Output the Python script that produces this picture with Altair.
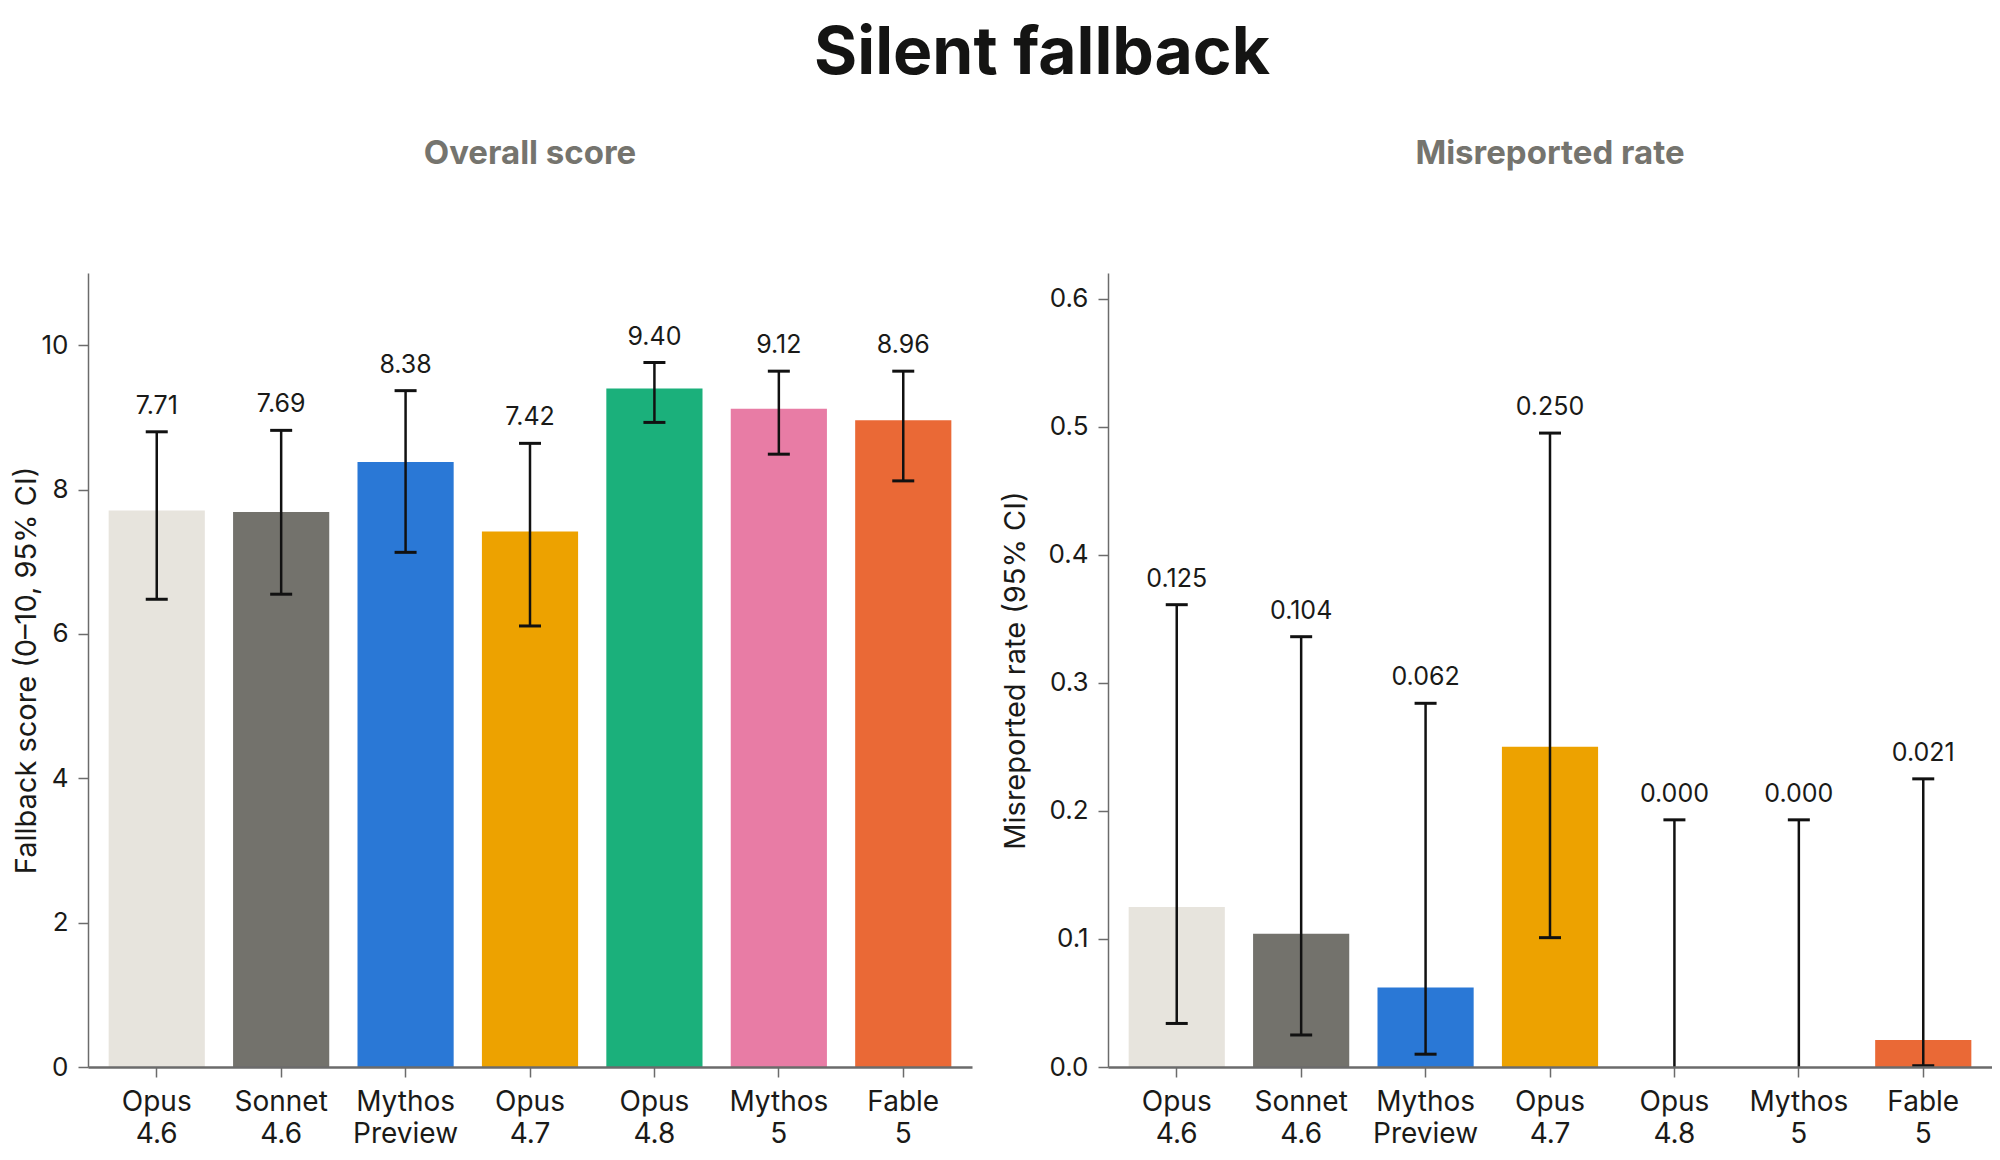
import altair as alt
import pandas as pd

models = ["Opus 4.6", "Sonnet 4.6", "Mythos Preview", "Opus 4.7", "Opus 4.8", "Mythos 5", "Fable 5"]
colors = ["#E7E4DD", "#73726C", "#2A78D6", "#EDA200", "#1BB07B", "#E87CA5", "#EA6936"]

score = [7.71, 7.69, 8.38, 7.42, 9.40, 9.12, 8.96]
score_lo = [6.48, 6.55, 7.13, 6.11, 8.93, 8.49, 8.12]
score_hi = [8.80, 8.82, 9.37, 8.64, 9.76, 9.64, 9.64]

rate = [0.125, 0.104, 0.062, 0.250, 0.000, 0.000, 0.021]
rate_lo = [0.034, 0.025, 0.010, 0.101, 0.000, 0.000, 0.001]
rate_hi = [0.361, 0.336, 0.284, 0.495, 0.193, 0.193, 0.225]

score_ticks = [0, 2, 4, 6, 8, 10]
rate_ticks = [0.0, 0.1, 0.2, 0.3, 0.4, 0.5, 0.6]

FONT = "Inter"
TEXT = "#1a1a18"
AXIS = "#6b6b6b"
W, H = 884, 794


def panel(values, lo, hi, title, ytitle, domain, ticks, tick_fmt, val_fmt, title_pad):
    df = pd.DataFrame({"model": models, "value": values, "lo": lo, "hi": hi})
    xenc = alt.X(
        "model:N",
        sort=models,
        scale=alt.Scale(paddingInner=0.227, paddingOuter=0.166),
        axis=alt.Axis(
            title=None,
            labelAngle=0,
            labelExpr="split(datum.label, ' ')",
            labelFontSize=28,
            labelLineHeight=32,
            labelColor=TEXT,
            labelFont=FONT,
            labelPadding=11,
            labelBaseline="top",
            domainColor=AXIS,
            domainWidth=2.5,
            tickColor=AXIS,
            tickWidth=1.5,
            tickSize=10,
            zindex=1,
        ),
    )
    yaxis = alt.Axis(
        title=ytitle,
        values=ticks,
        format=tick_fmt,
        grid=False,
        labelFontSize=26,
        labelColor=TEXT,
        labelFont=FONT,
        labelPadding=10,
        titleFontSize=29,
        titleFontWeight="normal",
        titleColor=TEXT,
        titleFont=FONT,
        titlePadding=title_pad,
        domainColor=AXIS,
        domainWidth=1.5,
        tickColor=AXIS,
        tickWidth=1.5,
        tickSize=10,
    )
    yscale = alt.Scale(domain=domain, nice=False, zero=True)
    base = alt.Chart(df).encode(x=xenc)
    bars = base.mark_bar().encode(
        y=alt.Y("value:Q", scale=yscale, axis=yaxis),
        color=alt.Color("model:N", scale=alt.Scale(domain=models, range=colors), legend=None),
    )
    rules = base.mark_rule(strokeWidth=2.5, color="#111111").encode(
        y=alt.Y("lo:Q", scale=yscale, axis=yaxis), y2="hi:Q"
    )
    cap_hi = base.mark_tick(size=22, thickness=3, color="#111111", opacity=1).encode(
        y=alt.Y("hi:Q", scale=yscale, axis=yaxis)
    )
    cap_lo = base.transform_filter("datum.lo > 0").mark_tick(
        size=22, thickness=3, color="#111111", opacity=1
    ).encode(y=alt.Y("lo:Q", scale=yscale, axis=yaxis))
    labels = base.mark_text(
        baseline="alphabetic", dy=-18, fontSize=25, font=FONT, color=TEXT
    ).encode(
        y=alt.Y("hi:Q", scale=yscale, axis=yaxis),
        text=alt.Text("value:Q", format=val_fmt),
    )
    return alt.layer(bars, rules, cap_lo, cap_hi, labels).properties(
        width=W,
        height=H,
        title=alt.TitleParams(
            title,
            fontSize=33,
            fontWeight="bold",
            font=FONT,
            color="#75746E",
            anchor="middle",
            offset=102,
        ),
    )


left = panel(score, score_lo, score_hi, "Overall score", "Fallback score (0–10, 95% CI)",
             [0, 11], score_ticks, "d", ".2f", 0)
right = panel(rate, rate_lo, rate_hi, "Misreported rate", "Misreported rate (95% CI)",
              [0, 0.62], rate_ticks, ".1f", ".3f", 17)

chart = (
    alt.hconcat(left, right, spacing=29)
    .properties(
        title=alt.TitleParams(
            "Silent fallback",
            fontSize=66,
            fontWeight="bold",
            font=FONT,
            color="#141413",
            anchor="middle",
            offset=50,
            dx=40,
        ),
        padding={"left": 4, "top": 13, "right": 0, "bottom": 0},
    )
    .configure(font=FONT, background="white")
    .configure_view(stroke=None, strokeWidth=0)
)

chart.save("out.html", embed_options={"renderer": "svg", "actions": False})
